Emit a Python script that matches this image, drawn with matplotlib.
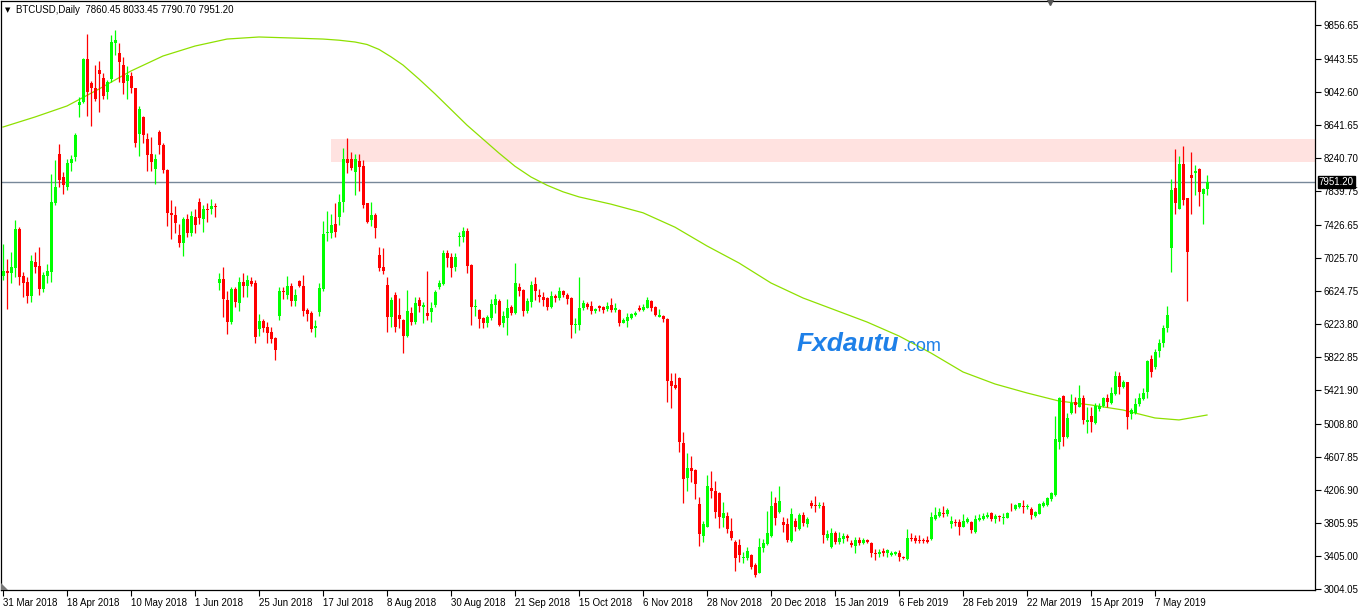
import numpy as np
import matplotlib
matplotlib.use("Agg")
import matplotlib.pyplot as plt
from matplotlib.patches import Rectangle, Polygon
from matplotlib.transforms import blended_transform_factory

# Daily BTCUSD bars (broker feed, 5 bars a week)

opens = [
    6807, 6868, 6848, 6900, 7378, 6811, 6738, 6564, 6977, 6928,
    6645, 6807, 6860, 7698, 8289, 8010, 7892, 8176, 8257, 8885,
    8925, 9444, 9156, 9087, 9310, 9209, 9047, 9205, 9642, 9520,
    9371, 9176, 9237, 9087, 8532, 8739, 8472, 8289, 8107, 8557,
    8399, 8095, 7568, 7544, 7305, 7204, 7500, 7333, 7524, 7706,
    7504, 7625, 7617, 7658, 6726, 6766, 6515, 6252, 6649, 6483,
    6730, 6690, 6742, 6726, 6163, 6260, 6187, 6127, 6054, 6325,
    6625, 6576, 6690, 6503, 6746, 6690, 6394, 6361, 6175, 6370,
    6649, 7325, 7333, 7439, 7528, 7710, 8224, 8224, 8075, 8204,
    8143, 7690, 7487, 7548, 7062, 6920, 6698, 6313, 6576, 6333,
    6272, 6082, 6353, 6252, 6515, 6434, 6362, 6365, 6455, 6677,
    6706, 7082, 7042, 6912, 7277, 7285, 7358, 6941, 6434, 6394,
    6301, 6240, 6293, 6455, 6503, 6232, 6301, 6434, 6353, 6669,
    6637, 6382, 6495, 6710, 6576, 6556, 6536, 6434, 6564, 6536,
    6625, 6576, 6544, 6212, 6212, 6422, 6467, 6446, 6386, 6442,
    6434, 6402, 6455, 6394, 6394, 6240, 6264, 6301, 6333, 6422,
    6394, 6422, 6503, 6434, 6313, 6321, 6285, 5535, 5483, 5564,
    4774, 4357, 4470, 4450, 4033, 3652, 3761, 4227, 4195, 4175,
    3871, 3891, 3713, 3571, 3539, 3385, 3385, 3417, 3296, 3202,
    3506, 3551, 3652, 4045, 3944, 3822, 3794, 3591, 3834, 3733,
    3903, 3790, 4053, 4025, 4012, 4012, 3628, 3518, 3689, 3579,
    3612, 3652, 3567, 3530, 3599, 3567, 3599, 3567, 3445, 3425,
    3466, 3437, 3417, 3425, 3445, 3397, 3368, 3624, 3620, 3599,
    3599, 3599, 3607, 3855, 3895, 3931, 3911, 3790, 3822, 3822,
    3761, 3814, 3822, 3701, 3843, 3855, 3875, 3931, 3854, 3891,
    3871, 3871, 4004, 3976, 3996, 4012, 3996, 3972, 3895, 3915,
    4016, 4025, 4093, 4146, 4794, 5349, 4855, 5138, 5280, 5219,
    5321, 5037, 5106, 5017, 5187, 5227, 5329, 5268, 5373, 5592,
    5454, 5515, 5126, 5138, 5248, 5313, 5402, 5800, 5700, 5890,
    5990, 6170, 7143, 7872, 7621, 8168, 7751, 8034, 8063, 8107,
    7803, 7860.45,
]

highs = [
    7196, 7013, 7095, 7487, 7406, 6860, 6799, 7058, 7095, 7155,
    6860, 6953, 8046, 8216, 8411, 8075, 8224, 8277, 8540, 8986,
    9460, 9747, 9180, 9371, 9423, 9269, 9188, 9735, 9796, 9642,
    9464, 9358, 9290, 9095, 8873, 8745, 8540, 8492, 8289, 8581,
    8419, 8107, 7730, 7658, 7439, 7520, 7560, 7601, 7617, 7755,
    7670, 7690, 7742, 7690, 6839, 6920, 6625, 6677, 6669, 6799,
    6839, 6819, 6799, 6758, 6345, 6284, 6252, 6191, 6060, 6669,
    6677, 6811, 6718, 6649, 6758, 6819, 6414, 6386, 6272, 6718,
    7475, 7601, 7556, 7698, 7803, 8358, 8480, 8310, 8285, 8289,
    8216, 7698, 7710, 7568, 7163, 7151, 6791, 6556, 6617, 6544,
    6284, 6637, 6434, 6556, 6548, 6495, 6868, 6495, 6637, 6758,
    7123, 7123, 7082, 7082, 7337, 7398, 7386, 6950, 6523, 6400,
    6313, 6333, 6527, 6588, 6523, 6386, 6523, 6455, 6961, 6718,
    6645, 6544, 6746, 6791, 6645, 6617, 6548, 6625, 6584, 6669,
    6637, 6604, 6556, 6293, 6791, 6515, 6495, 6503, 6422, 6450,
    6442, 6495, 6536, 6475, 6402, 6293, 6353, 6361, 6386, 6455,
    6467, 6556, 6515, 6442, 6406, 6333, 6293, 5624, 5624, 5576,
    4907, 4652, 4620, 4458, 4118, 3830, 4389, 4438, 4316, 4187,
    4057, 3944, 3863, 3599, 3611, 3458, 3510, 3425, 3316, 3620,
    3607, 3952, 4195, 4126, 4256, 3883, 3863, 3984, 3863, 3931,
    3944, 3883, 4085, 4134, 4065, 4057, 3721, 3741, 3709, 3701,
    3689, 3672, 3599, 3640, 3640, 3620, 3611, 3570, 3490, 3490,
    3498, 3490, 3466, 3466, 3478, 3409, 3733, 3689, 3660, 3660,
    3620, 3648, 3944, 3996, 3984, 4012, 3984, 3891, 3851, 3851,
    3915, 3875, 3830, 3903, 3911, 3923, 3944, 3944, 3911, 3903,
    3931, 3935, 4053, 4037, 4053, 4085, 4033, 4004, 3956, 4045,
    4073, 4126, 4187, 5110, 5341, 5361, 5138, 5373, 5333, 5482,
    5361, 5219, 5219, 5260, 5260, 5341, 5373, 5454, 5650, 5645,
    5543, 5520, 5199, 5321, 5381, 5442, 5790, 5850, 5920, 6040,
    6210, 6440, 7982, 8350, 8265, 8387, 7760, 8310, 8156, 8115,
    7880, 8033.45,
]

lows = [
    6758, 6402, 6726, 6799, 6698, 6548, 6483, 6495, 6839, 6576,
    6617, 6726, 6738, 7670, 7892, 7799, 7852, 8083, 8208, 8743,
    8905, 8751, 8630, 8933, 8804, 8958, 8958, 9168, 9492, 9168,
    9018, 8958, 9034, 8370, 8265, 8419, 8087, 8083, 7921, 8289,
    8062, 7418, 7256, 7325, 7163, 7054, 7277, 7297, 7325, 7439,
    7346, 7467, 7560, 7528, 6637, 6313, 6102, 6224, 6434, 6382,
    6556, 6556, 6690, 5997, 6078, 6131, 5989, 5989, 5786, 6272,
    6528, 6528, 6447, 6447, 6669, 6321, 6260, 6123, 6070, 6321,
    6629, 7236, 7265, 7277, 7427, 7589, 8054, 8095, 7791, 7844,
    7637, 7447, 7419, 7273, 6872, 6831, 6123, 6183, 6123, 6171,
    5867, 6070, 6212, 6224, 6374, 6232, 6272, 6244, 6434, 6645,
    6698, 6920, 6791, 6872, 7176, 7224, 6847, 6212, 6321, 6171,
    6171, 6191, 6272, 6361, 6199, 6191, 6090, 6333, 6345, 6564,
    6321, 6353, 6426, 6515, 6495, 6447, 6394, 6414, 6495, 6515,
    6548, 6467, 6058, 6118, 6151, 6394, 6406, 6345, 6353, 6382,
    6361, 6382, 6374, 6374, 6199, 6232, 6191, 6285, 6321, 6382,
    6382, 6414, 6386, 6321, 6305, 6252, 5280, 5207, 5430, 4673,
    4045, 4199, 4308, 4098, 3531, 3579, 3753, 4106, 3871, 3749,
    3753, 3680, 3599, 3227, 3336, 3316, 3356, 3243, 3154, 3194,
    3458, 3539, 3640, 3782, 3931, 3701, 3579, 3579, 3709, 3721,
    3769, 3761, 3984, 3944, 3984, 3567, 3599, 3506, 3551, 3551,
    3559, 3591, 3518, 3437, 3539, 3551, 3567, 3389, 3356, 3389,
    3409, 3389, 3409, 3417, 3348, 3364, 3356, 3591, 3567, 3567,
    3559, 3567, 3599, 3843, 3883, 3883, 3895, 3741, 3774, 3660,
    3753, 3802, 3689, 3689, 3830, 3843, 3863, 3834, 3810, 3834,
    3794, 3863, 3956, 3964, 3984, 3931, 3972, 3854, 3883, 3911,
    4004, 4012, 4077, 4138, 4705, 4742, 4843, 5126, 5138, 5211,
    5009, 4904, 4916, 5009, 5171, 5211, 5211, 5252, 5361, 5373,
    5442, 4948, 5066, 5126, 5227, 5300, 5321, 5580, 5680, 5820,
    5950, 6130, 6860, 7560, 7621, 7670, 6503, 7556, 7791, 7662,
    7439, 7790.70,
]

closes = [
    6872, 6848, 6916, 7378, 6799, 6718, 6564, 6989, 6920, 6645,
    6819, 6868, 7710, 7892, 7973, 7909, 8176, 8224, 8520, 8925,
    9444, 9047, 9095, 8958, 9261, 8994, 9168, 9650, 9674, 9411,
    9148, 9249, 9087, 8427, 8836, 8520, 8277, 8196, 8224, 8399,
    8095, 7577, 7552, 7447, 7212, 7496, 7333, 7532, 7427, 7516,
    7621, 7609, 7658, 7641, 6770, 6528, 6252, 6649, 6487, 6734,
    6686, 6758, 6710, 6070, 6260, 6179, 6118, 6042, 5908, 6625,
    6612, 6690, 6503, 6580, 6686, 6382, 6345, 6163, 6199, 6665,
    7317, 7341, 7427, 7346, 7710, 8224, 8184, 8123, 8224, 8135,
    7670, 7467, 7548, 7386, 6908, 6872, 6313, 6515, 6183, 6280,
    6082, 6382, 6244, 6475, 6447, 6455, 6325, 6414, 6617, 6726,
    7082, 7030, 6908, 7042, 7293, 7358, 6933, 6434, 6447, 6285,
    6240, 6313, 6467, 6523, 6212, 6321, 6414, 6361, 6718, 6625,
    6382, 6503, 6698, 6629, 6548, 6515, 6434, 6564, 6544, 6629,
    6576, 6528, 6212, 6224, 6414, 6483, 6426, 6386, 6402, 6414,
    6394, 6442, 6394, 6414, 6240, 6272, 6305, 6345, 6361, 6394,
    6434, 6515, 6422, 6333, 6333, 6281, 5535, 5471, 5450, 4794,
    4340, 4470, 4442, 4276, 3668, 3790, 4256, 4195, 3944, 3883,
    3924, 3733, 3620, 3385, 3417, 3397, 3466, 3275, 3174, 3510,
    3559, 3680, 4012, 3863, 4073, 3782, 3599, 3911, 3761, 3903,
    3810, 3855, 4017, 4012, 4025, 3660, 3672, 3689, 3579, 3620,
    3652, 3628, 3539, 3599, 3567, 3599, 3579, 3437, 3425, 3458,
    3437, 3478, 3445, 3458, 3389, 3377, 3620, 3612, 3587, 3587,
    3587, 3579, 3883, 3903, 3944, 3919, 3964, 3830, 3802, 3761,
    3834, 3855, 3721, 3855, 3871, 3895, 3903, 3855, 3895, 3875,
    3883, 3923, 3996, 4025, 4045, 3996, 4008, 3903, 3944, 4033,
    4053, 4106, 4166, 4827, 5321, 4855, 5086, 5268, 5240, 5321,
    5057, 5057, 5029, 5227, 5227, 5329, 5272, 5381, 5592, 5454,
    5523, 5098, 5179, 5252, 5321, 5381, 5770, 5640, 5880, 5990,
    6170, 6330, 7852, 7698, 8168, 7730, 7103, 8002, 8083, 7832,
    7860, 7951.20,
]

# slow moving average, sampled along the bars
ma_bars = [0, 8, 16, 24, 32, 40, 48, 56, 64, 72, 80, 84, 88, 91, 94, 97,
           100, 104, 108, 112, 116, 120, 124, 128, 132, 136, 140, 144, 152,
           160, 168, 176, 184, 192, 200, 208, 216, 224, 232, 240, 248, 256,
           264, 272, 280, 288, 294, 301]
ma_values = [8617, 8739, 8873, 9079, 9298, 9480, 9601, 9686, 9711, 9699,
             9686, 9672, 9650, 9620, 9560, 9470, 9370, 9200, 9020, 8830,
             8640, 8470, 8300, 8140, 8010, 7910, 7830, 7768, 7680, 7575,
             7400, 7172, 6965, 6722, 6540, 6394, 6248, 6078, 5871, 5641,
             5495, 5386, 5288, 5240, 5179, 5082, 5058, 5118]

date_labels = ["31 Mar 2018", "18 Apr 2018", "10 May 2018", "1 Jun 2018",
               "25 Jun 2018", "17 Jul 2018", "8 Aug 2018", "30 Aug 2018",
               "21 Sep 2018", "15 Oct 2018", "6 Nov 2018", "28 Nov 2018",
               "20 Dec 2018", "15 Jan 2019", "6 Feb 2019", "28 Feb 2019",
               "22 Mar 2019", "15 Apr 2019", "7 May 2019"]

price_ticks = [9856.65, 9443.55, 9042.60, 8641.65, 8240.70, 7839.75, 7426.65,
               7025.70, 6624.75, 6223.80, 5822.85, 5421.90, 5008.80, 4607.85,
               4206.90, 3805.95, 3405.00, 3004.05]

zone_low, zone_high = 8192, 8472
last_price = 7951.20

FONT = "Liberation Sans"

# ---- figure ----
W, H = 1363, 611
fig = plt.figure(figsize=(W / 100, H / 100), dpi=100)
ax = fig.add_axes([1 / W, 21 / H, 1314 / W, 589 / H])

o = np.array(opens, dtype=float)
h = np.array(highs, dtype=float)
l = np.array(lows, dtype=float)
c = np.array(closes, dtype=float)
idx = np.arange(len(c))
up = c >= o
col = np.where(up, "#00ff00", "#ff0000")

# resistance zone
ax.add_patch(Rectangle((82, zone_low), 400, zone_high - zone_low,
                       facecolor="#ffe2e0", edgecolor="none", zorder=0))

# last price line
ax.axhline(last_price, color="#778899", lw=1.0, zorder=1)

# moving average
ax.plot(ma_bars, ma_values, color="#8ee000", lw=0.9, zorder=2)

# candles
ax.vlines(idx, l, h, colors=col, lw=0.9, zorder=3)
ax.bar(idx, np.maximum(np.abs(c - o), 10), bottom=np.minimum(o, c),
       width=0.75, color=col, linewidth=0, zorder=4)

ax.set_xlim(-0.5, 328)
ax.set_ylim(2991.9, 10148.25)

# axes look
for s in ax.spines.values():
    s.set_linewidth(0.9)
    s.set_color("black")

ax.yaxis.tick_right()
ax.set_yticks(price_ticks)
ax.set_yticklabels(["%.2f" % v for v in price_ticks], fontfamily=FONT)
ax.tick_params(axis="y", direction="out", length=4, width=0.8, pad=2,
               labelsize=7, colors="black")

ax.set_xticks(np.arange(len(date_labels)) * 16)
ax.set_xticklabels(date_labels, ha="left", fontfamily=FONT)
ax.tick_params(axis="x", direction="out", length=4, width=0.8, pad=2,
               labelsize=7, colors="black")

# current price tag
trans = blended_transform_factory(ax.transAxes, ax.transData)
ax.text(1.003, last_price, "7951.20", transform=trans, color="white",
        fontsize=7, fontfamily=FONT, va="center", ha="left",
        bbox=dict(facecolor="black", edgecolor="black", pad=0.8),
        clip_on=False, zorder=10)

# chart shift marker at top
ax.plot([261.75], [1], transform=blended_transform_factory(ax.transData, ax.transAxes),
        marker="v", markersize=6, color="#555555", clip_on=False, zorder=10)

# small corner marker at bottom left
fig.patches.append(Polygon([(1 / W, 21 / H), (1 / W, 28 / H), (8 / W, 21 / H)],
                           closed=True, transform=fig.transFigure,
                           facecolor="#777777", edgecolor="none"))

# header text
fig.text(5 / W, 1 - 10 / H, "\u25bc", fontsize=5, va="center", color="black")
fig.text(16 / W, 1 - 10 / H, "BTCUSD,Daily  7860.45 8033.45 7790.70 7951.20",
         fontsize=7, fontfamily=FONT, va="center", color="black")

# watermark
fig.text(797 / W, 1 - 351 / H, "Fxdautu", fontsize=19, fontweight="bold",
         fontstyle="italic", fontfamily=FONT, color="#1e80e8", va="baseline")
fig.text(902 / W, 1 - 351 / H, ".com", fontsize=13, fontfamily=FONT,
         color="#1e80e8", va="baseline")

fig.savefig("out.png", dpi=100)
